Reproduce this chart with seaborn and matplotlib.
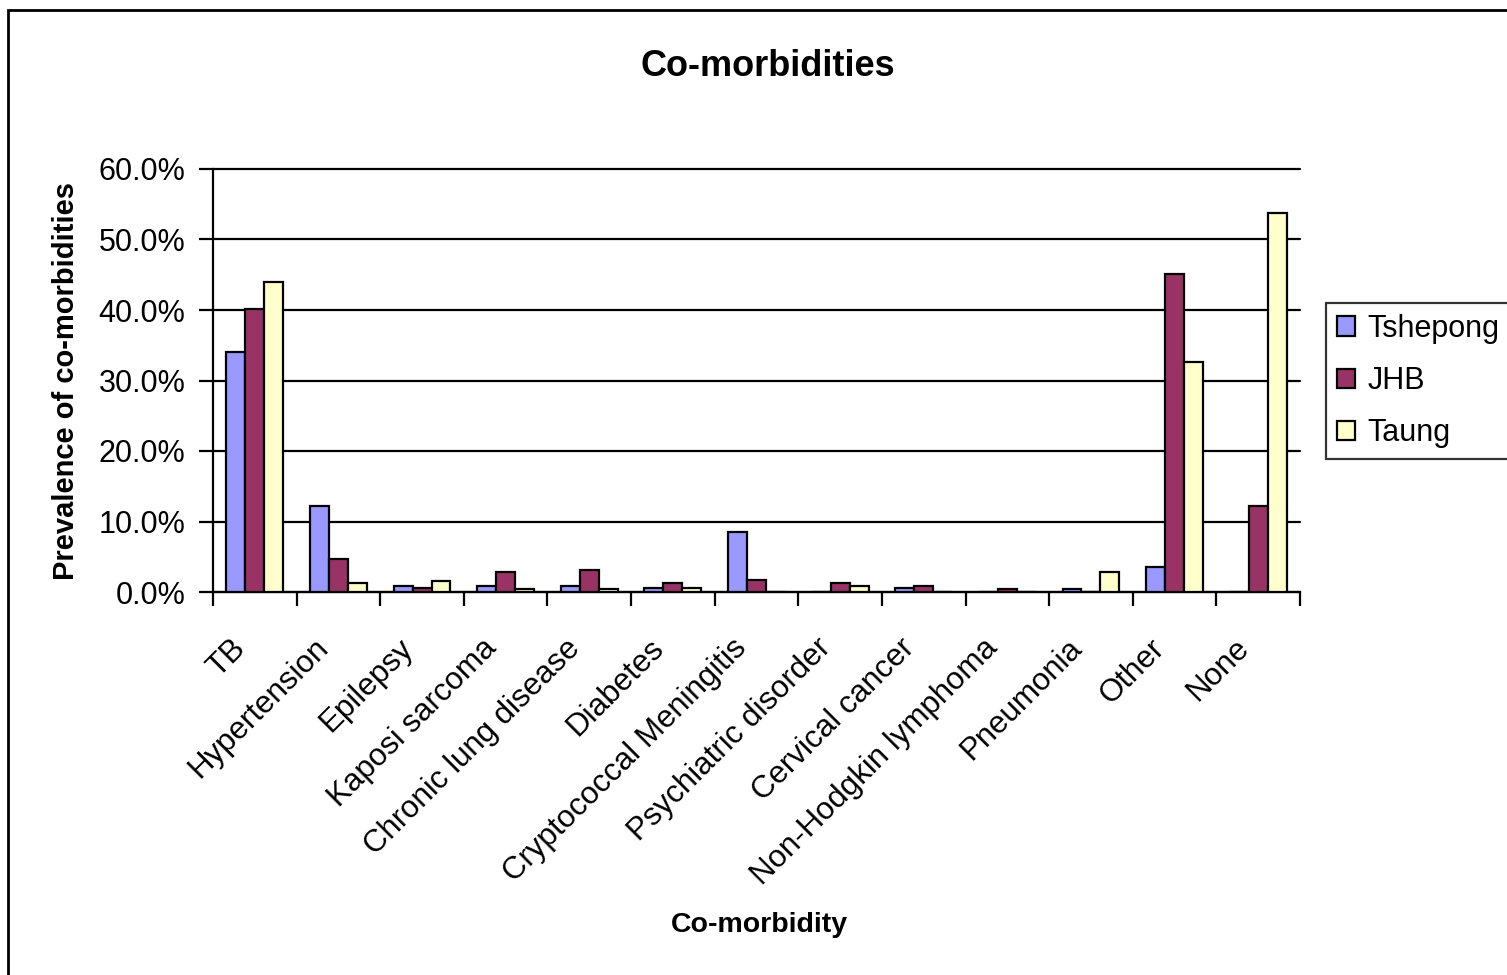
import numpy as np
import pandas as pd
import matplotlib
matplotlib.use('Agg')
import matplotlib.pyplot as plt
import matplotlib.transforms as mtransforms
from matplotlib.patches import Rectangle
from matplotlib.ticker import FuncFormatter, FixedLocator
import seaborn as sns

# data (percent)
categories = ['TB', 'Hypertension', 'Epilepsy', 'Kaposi sarcoma', 'Chronic lung disease',
              'Diabetes', 'Cryptococcal Meningitis', 'Psychiatric disorder', 'Cervical cancer',
              'Non-Hodgkin lymphoma', 'Pneumonia', 'Other', 'None']
tshepong = [34.0, 12.2, 0.8, 0.8, 0.8, 0.5, 8.5, 0.0, 0.5, 0.0, 0.4, 3.5, 0.0]
jhb = [40.1, 4.7, 0.5, 2.8, 3.1, 1.3, 1.7, 1.3, 0.9, 0.4, 0.0, 45.1, 12.2]
taung = [44.0, 1.3, 1.6, 0.4, 0.4, 0.5, 0.0, 0.8, 0.0, 0.0, 2.8, 32.6, 53.8]
sites = ['Tshepong', 'JHB', 'Taung']
colors = ['#9999FF', '#993366', '#FFFFCC']

df = pd.DataFrame({
    'category': categories * 3,
    'site': [s for s in sites for _ in categories],
    'value': tshepong + jhb + taung,
})

sns.set_style('white')
plt.rcParams['font.family'] = ['Liberation Sans', 'DejaVu Sans']
plt.rcParams['text.color'] = 'black'
plt.rcParams['xtick.color'] = 'black'
plt.rcParams['ytick.color'] = 'black'

fig = plt.figure(figsize=(15.07, 9.75), dpi=100)
ax = fig.add_axes([213 / 1507, 1 - 592 / 975, (1300 - 213) / 1507, (592 - 169) / 975])

sns.barplot(data=df, x='category', y='value', hue='site', hue_order=sites,
            order=categories, palette=colors, width=0.68, edgecolor='black',
            linewidth=1.6, saturation=1, ax=ax, legend=True, zorder=3)

# axes
ax.set_ylim(0, 60)
ax.set_xlim(-0.5, len(categories) - 0.5)
ax.set_yticks(np.arange(0, 61, 10))
ax.yaxis.set_major_formatter(FuncFormatter(lambda v, p: f'{v:.1f}%'))
ax.grid(axis='y', color='black', linewidth=1.6, zorder=0)
for gl in ax.get_ygridlines():
    gl.set_clip_on(False)
ax.set_axisbelow(True)
for s in ['top', 'right']:
    ax.spines[s].set_visible(False)
for s in ['left', 'bottom']:
    ax.spines[s].set_color('black')
    ax.spines[s].set_linewidth(1.6)

ax.set_xticks(range(len(categories)))
ax.set_xticklabels(categories, rotation=45, ha='right', va='center', rotation_mode='anchor', fontsize=22.5)
ax.tick_params(axis='x', which='major', length=0, pad=30)
# nudge the rotated labels a bit down-left
offset = mtransforms.ScaledTranslation(-14 / 100, -10 / 100, fig.dpi_scale_trans)
for lab in ax.get_xticklabels():
    lab.set_transform(lab.get_transform() + offset)
ax.xaxis.set_minor_locator(FixedLocator(np.arange(-0.5, len(categories), 1.0)))
ax.tick_params(axis='x', which='minor', length=10, width=1.6, color='black', direction='out', bottom=True)
ax.tick_params(axis='y', length=10, width=1.6, color='black', direction='out', left=True, labelsize=22, pad=10)
ax.set_xlabel('')
ax.set_ylabel('')

# titles
fig.text(768 / 1507, 1 - 67 / 975, 'Co-morbidities', ha='center', va='center', fontsize=26, fontweight='bold')
fig.text(759 / 1507, 1 - 925 / 975, 'Co-morbidity', ha='center', va='center', fontsize=20.5, fontweight='bold')
fig.text(66 / 1507, 1 - 381 / 975, 'Prevalence of co-morbidities', ha='center', va='center',
         rotation=90, fontsize=21, fontweight='bold')

# legend
handles, labels = ax.get_legend_handles_labels()
ax.legend_.remove()
leg = fig.legend(handles, labels, loc='upper left', bbox_to_anchor=(1326 / 1507, 1 - 303 / 975),
                 fontsize=22, frameon=True, fancybox=False, edgecolor='black',
                 handlelength=0.6, handleheight=0.6, handletextpad=0.4, labelspacing=0.73,
                 borderpad=0.35, borderaxespad=0)
leg.get_frame().set_linewidth(1.6)

# outer border
fig.patches.append(Rectangle((8 / 1507, -0.05), 1.1, 1.05 + (1 - 10 / 975) - 1, transform=fig.transFigure,
                             fill=False, edgecolor='black', linewidth=2, zorder=10))

fig.savefig('out.png', dpi=100)
